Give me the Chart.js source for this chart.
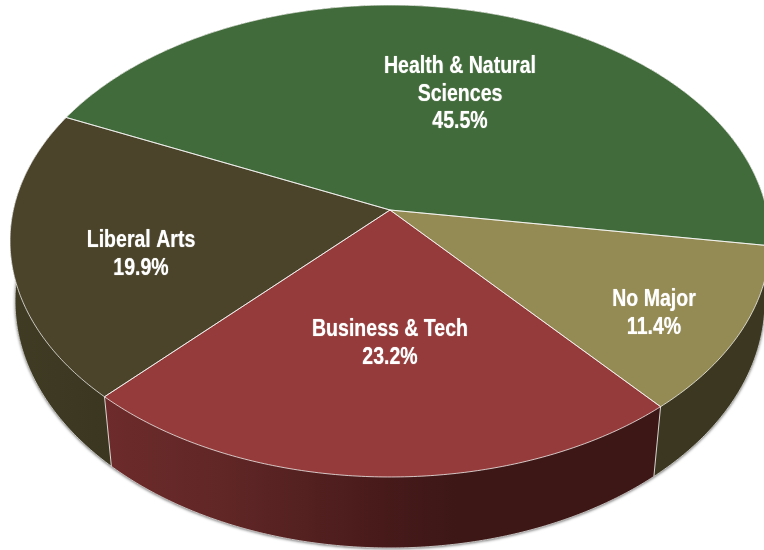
<!DOCTYPE html>
<html>
<head>
<meta charset="utf-8">
<style>html,body{margin:0;padding:0;background:#fff}canvas{display:block}</style>
<script src="https://cdn.jsdelivr.net/npm/chart.js@4"></script>
</head>
<body>
<canvas id="c" width="764" height="550"></canvas>
<script>
const categories = ['Health & Natural Sciences', 'No Major', 'Business & Tech', 'Liberal Arts'];
const shares = [45.5, 11.4, 23.2, 19.9];
const topColors = ['#426B3B', '#948A54', '#953B3B', '#4B442B'];
const labelLines = [['Health & Natural', 'Sciences'], ['No Major'], ['Business & Tech'], ['Liberal Arts']];
const labelAnchors = [[460, 66.5], [654, 300], [390, 330], [141, 241]];
const wallStops = [
  [[0, '#2f3a1e'], [1, '#2f3a1e']],
  [[0, '#3B3720'], [1, '#3B3720']],
  [[0.13, '#6E2B2B'], [0.3, '#602626'], [0.5, '#481A1A'], [0.6, '#3C1716'], [1, '#3C1716']],
  [[0, '#403C24'], [0.15, '#3A3620'], [1, '#3A3620']]
];

const TOP = { cx: 390, cy: 210, ax: 376.7, ay: 231.9, k: -0.1314 };
const BASE = { cx: 390, cy: 272.6, ax: 372.5, ay: 243.7, k: -0.115 };

function project(plane, angle, r = 1) {
  const u = r * Math.cos(angle), v = r * Math.sin(angle);
  const w = 1 + plane.k * v;
  return [plane.cx + plane.ax * u / w, plane.cy + plane.ay * v / w];
}
function trace(ctx, plane, a0, a1, moveFirst) {
  const n = Math.max(2, Math.ceil(Math.abs(a1 - a0) / 0.01));
  for (let i = 0; i <= n; i++) {
    const p = project(plane, a0 + (a1 - a0) * i / n);
    if (i === 0 && moveFirst) ctx.moveTo(p[0], p[1]); else ctx.lineTo(p[0], p[1]);
  }
}

const pie3d = {
  id: 'pie3d',
  beforeDatasetDraw(chart) {
    const ctx = chart.ctx, arcs = chart.getDatasetMeta(0).data;
    ctx.save();
    // soft shadow of the solid's silhouette
    ctx.save();
    ctx.shadowColor = 'rgba(0,0,0,0.6)';
    ctx.shadowBlur = 3;
    ctx.shadowOffsetX = 0;
    ctx.shadowOffsetY = 1;
    ctx.fillStyle = '#3A3620';
    ctx.beginPath();
    trace(ctx, BASE, 0, Math.PI * 2, true);
    ctx.closePath();
    ctx.fill();
    ctx.restore();
    // walls
    arcs.forEach((arc, i) => {
      const g = ctx.createLinearGradient(0, 0, 764, 0);
      wallStops[i].forEach(s => g.addColorStop(s[0], s[1]));
      ctx.fillStyle = g;
      ctx.beginPath();
      trace(ctx, TOP, arc.startAngle, arc.endAngle, true);
      trace(ctx, BASE, arc.endAngle, arc.startAngle, false);
      ctx.closePath();
      ctx.fill();
    });
    // seams and lower rim
    ctx.strokeStyle = 'rgba(255,255,255,0.8)';
    ctx.lineWidth = 1;
    arcs.forEach(arc => {
      const a = project(TOP, arc.endAngle), b = project(BASE, arc.endAngle);
      ctx.beginPath(); ctx.moveTo(a[0], a[1]); ctx.lineTo(b[0], b[1]); ctx.stroke();
    });
    ctx.strokeStyle = 'rgba(225,225,225,0.8)';
    ctx.beginPath();
    trace(ctx, BASE, 0, Math.PI * 2, true);
    ctx.closePath();
    ctx.stroke();
    // top faces
    arcs.forEach((arc, i) => {
      ctx.fillStyle = arc.options.backgroundColor;
      ctx.beginPath();
      ctx.moveTo(TOP.cx, TOP.cy);
      trace(ctx, TOP, arc.startAngle, arc.endAngle, false);
      ctx.closePath();
      ctx.fill();
    });
    arcs.forEach(arc => {
      ctx.strokeStyle = 'rgba(255,255,255,0.72)';
      ctx.lineWidth = 1;
      ctx.beginPath();
      ctx.moveTo(TOP.cx, TOP.cy);
      trace(ctx, TOP, arc.startAngle, arc.endAngle, false);
      ctx.closePath();
      ctx.stroke();
    });
    ctx.restore();
    return false;
  },
  afterDatasetsDraw(chart) {
    const ctx = chart.ctx;
    ctx.save();
    ctx.fillStyle = '#fff';
    ctx.textAlign = 'center';
    ctx.textBaseline = 'middle';
    ctx.shadowColor = 'rgba(255,255,255,0.7)';
    ctx.shadowBlur = 1;
    ctx.font = 'bold 23.5px "Liberation Sans", Arial, sans-serif';
    const sx = 152 / ctx.measureText('Health & Natural').width;
    categories.forEach((c, i) => {
      const lines = labelLines[i].concat(shares[i].toFixed(1) + '%');
      lines.forEach((t, j) => {
        ctx.save();
        ctx.translate(labelAnchors[i][0], labelAnchors[i][1] + j * 27.6);
        ctx.scale(sx, 1);
        ctx.fillText(t, 0, 0);
        ctx.restore();
      });
    });
    ctx.restore();
  }
};

new Chart(document.getElementById('c'), {
  type: 'pie',
  data: { labels: categories, datasets: [{ data: shares, backgroundColor: topColors, borderWidth: 0 }] },
  options: {
    responsive: false,
    animation: false,
    rotation: -65.1,
    plugins: { legend: { display: false }, tooltip: { enabled: false } }
  },
  plugins: [pie3d]
});
</script>
</body>
</html>
